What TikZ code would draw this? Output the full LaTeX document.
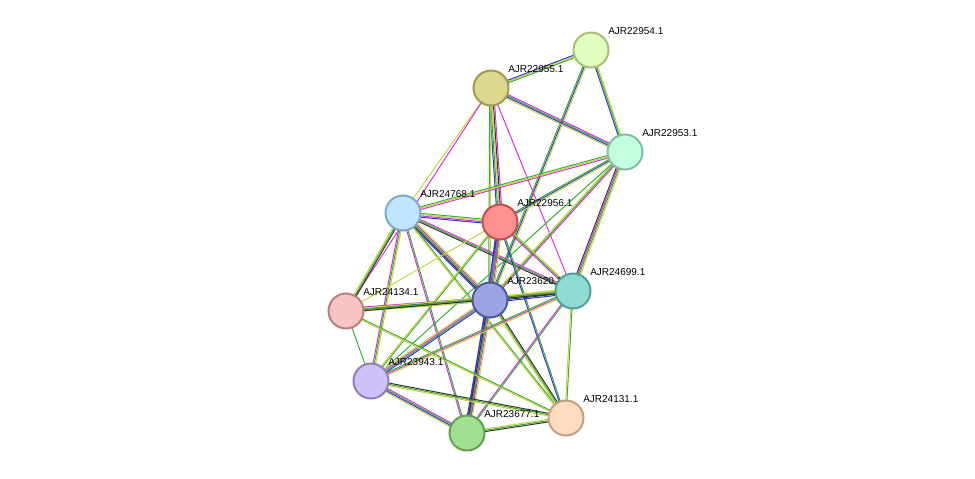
\documentclass[tikz,border=0pt]{standalone}
\usepackage{fontspec}
\setmainfont{Liberation Sans}
\usetikzlibrary{calc}
\definecolor{eg}{HTML}{33B033}
\definecolor{ey}{HTML}{C8D43C}
\definecolor{em}{HTML}{D633D6}
\definecolor{eb}{HTML}{3333E0}
\definecolor{ek}{HTML}{333333}
\newcommand{\edge}[3]{%
  \foreach \c [count=\i] in {#3} {
    \pgfmathsetmacro\o{(mod(\i,2)==0?-1:1)*floor(\i/2)*1.3}
    \draw[\c, line width=1pt] ($(#1)!\o pt!90:(#2)$) -- ($(#2)!\o pt!-90:(#1)$);
  }}
\begin{document}
\begin{tikzpicture}[x=1pt, y=-1pt,
    prot/.style={circle, draw, line width=2pt, minimum size=35pt, inner sep=0pt},
    lbl/.style={anchor=south west, inner sep=0pt, font=\fontsize{10}{11}\selectfont, xshift=4pt, yshift=2pt}]
  \useasboundingbox (0,0) rectangle (975,479);

  % coordinates of the proteins
  \coordinate (n22954) at (591,50);
  \coordinate (n22955) at (491,88);
  \coordinate (n22953) at (625,152);
  \coordinate (n24768) at (403,213);
  \coordinate (n22956) at (500,222);
  \coordinate (n23620) at (490,300);
  \coordinate (n24699) at (573,291);
  \coordinate (n24134) at (346,311);
  \coordinate (n23943) at (371,381);
  \coordinate (n23677) at (467,433);
  \coordinate (n24131) at (566,418);

  % --- edges ---
  \edge{n22954}{n22955}{ey,eb,eg}
  \edge{n22954}{n22953}{eg,eb,ey}
  \edge{n22954}{n23620}{eb,eg,ey}
  \edge{n22955}{n22953}{eg,eb,em,ey}
  \edge{n22955}{n22956}{ey,eg,ek,eb,em}
  \edge{n22955}{n24768}{ey}
  \edge{n22955}{n24134}{em}
  \edge{n22955}{n24699}{em}
  \edge{n22955}{n23620}{ey,eg}
  \edge{n22953}{n24768}{ey,eg,em}
  \edge{n22953}{n22956}{eb,eg,ey}
  \edge{n22953}{n23620}{eg,ey,em}
  \edge{n22953}{n24699}{eg,em,ey,ek}
  \edge{n22953}{n23943}{eg}
  \edge{n24768}{n22956}{ey,em,eg,eb}
  \edge{n24768}{n23620}{eg,ek,em,eb,ey}
  \edge{n24768}{n24699}{eg,ek,em}
  \edge{n24768}{n24134}{eg,ey,ek}
  \edge{n24768}{n23943}{eg,em,ey}
  \edge{n24768}{n23677}{eg,em}
  \edge{n24768}{n24131}{eg,ey}
  \edge{n22956}{n23620}{eg,ek,em,eb,ey}
  \edge{n22956}{n24699}{eg,em,ey}
  \edge{n22956}{n24134}{ey}
  \edge{n22956}{n23943}{eg,ey}
  \edge{n22956}{n23677}{em,eb,eg}
  \edge{n22956}{n24131}{eg,eb}
  \edge{n23620}{n24699}{eg,ek,em,eb,ey}
  \edge{n23620}{n24134}{eg,ek,ey,em}
  \edge{n23620}{n23943}{eg,em,eb,ey}
  \edge{n23620}{n23677}{eg,ek,em,eb,ey}
  \edge{n23620}{n24131}{eg,ey,ek}
  \edge{n24699}{n24134}{eg,ey,ek}
  \edge{n24699}{n23943}{em,eg,ey}
  \edge{n24699}{n23677}{eg,em}
  \edge{n24699}{n24131}{eg,ey}
  \edge{n24134}{n23943}{eg}
  \edge{n24134}{n24131}{eg,ey}
  \edge{n23943}{n23677}{eg,eb,em,ey}
  \edge{n23943}{n24131}{eg,ey,ek}
  \edge{n23677}{n24131}{eg,ek,ey}

  % --- proteins ---
  \node[prot, fill={rgb,255:red,224;green,255;blue,192}, draw={rgb,255:red,168;green,192;blue,112}, label={[lbl]north east:AJR22954.1}] (p22954) at (n22954) {};
  \node[prot, fill={rgb,255:red,220;green,217;blue,140}, draw={rgb,255:red,160;green,154;blue,80}, label={[lbl]north east:AJR22955.1}] (p22955) at (n22955) {};
  \node[prot, fill={rgb,255:red,194;green,255;blue,224}, draw={rgb,255:red,128;green,192;blue,160}, label={[lbl]north east:AJR22953.1}] (p22953) at (n22953) {};
  \node[prot, fill={rgb,255:red,192;green,230;blue,255}, draw={rgb,255:red,128;green,168;blue,200}, label={[lbl]north east:AJR24768.1}] (p24768) at (n24768) {};
  \node[prot, fill={rgb,255:red,255;green,144;blue,144}, draw={rgb,255:red,192;green,80;blue,80}, label={[lbl]north east:AJR22956.1}] (p22956) at (n22956) {};
  \node[prot, fill={rgb,255:red,155;green,164;blue,224}, draw={rgb,255:red,80;green,90;blue,152}, label={[lbl]north east:AJR23620.1}] (p23620) at (n23620) {};
  \node[prot, fill={rgb,255:red,144;green,220;blue,212}, draw={rgb,255:red,80;green,160;blue,152}, label={[lbl]north east:AJR24699.1}] (p24699) at (n24699) {};
  \node[prot, fill={rgb,255:red,248;green,196;blue,196}, draw={rgb,255:red,184;green,128;blue,128}, label={[lbl]north east:AJR24134.1}] (p24134) at (n24134) {};
  \node[prot, fill={rgb,255:red,208;green,192;blue,248}, draw={rgb,255:red,144;green,128;blue,192}, label={[lbl]north east:AJR23943.1}] (p23943) at (n23943) {};
  \node[prot, fill={rgb,255:red,160;green,224;blue,144}, draw={rgb,255:red,96;green,160;blue,80}, label={[lbl]north east:AJR23677.1}] (p23677) at (n23677) {};
  \node[prot, fill={rgb,255:red,255;green,220;blue,192}, draw={rgb,255:red,192;green,160;blue,128}, label={[lbl]north east:AJR24131.1}] (p24131) at (n24131) {};
\end{tikzpicture}
\end{document}
